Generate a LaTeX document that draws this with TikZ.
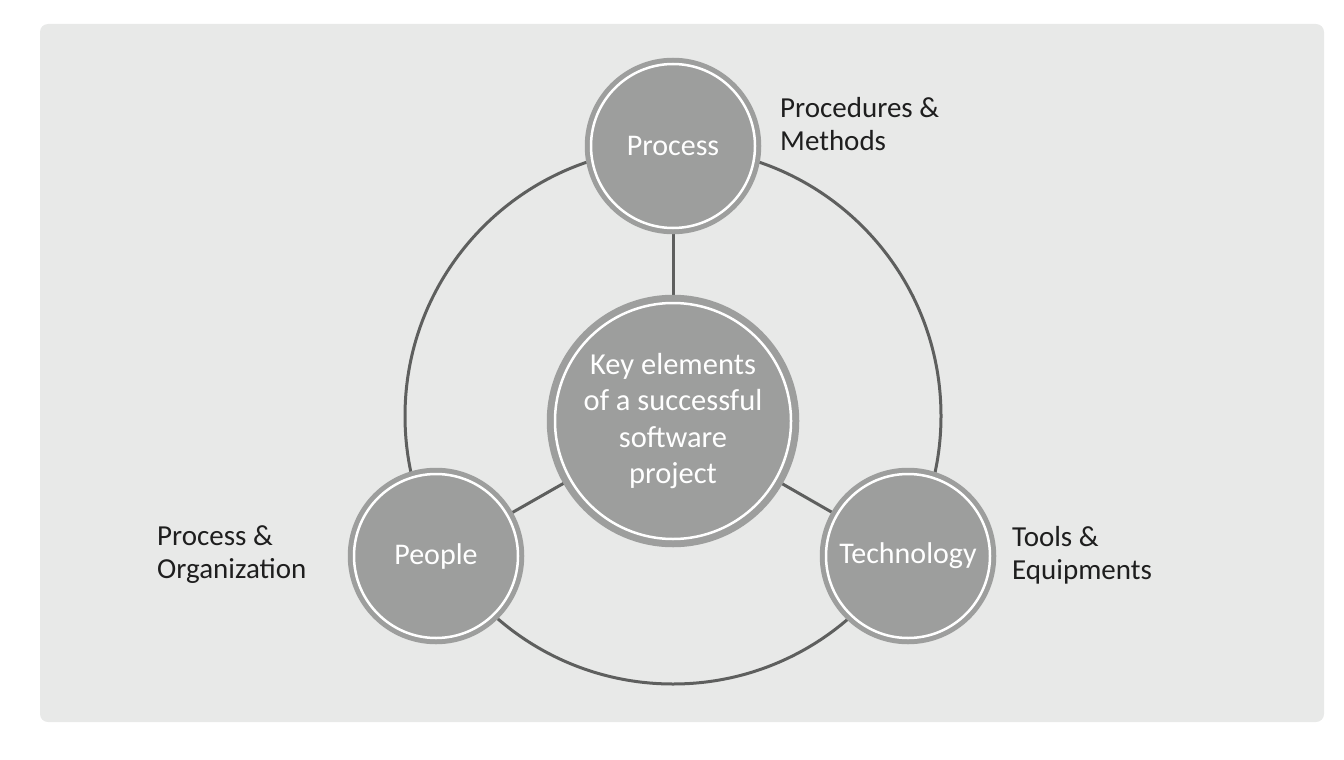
\documentclass[tikz,border=0pt]{standalone}
\usepackage{fontspec}
\setmainfont{Carlito}
\definecolor{panel}{HTML}{E8E9E8}
\definecolor{discgrey}{HTML}{9D9E9D}
\definecolor{linkgrey}{HTML}{5E5F5E}
\definecolor{ink}{HTML}{1E1E1E}
\pgfdeclarelayer{back}
\pgfdeclarelayer{mid}
\pgfsetlayers{back,mid,main}
\begin{document}
\begin{tikzpicture}[x=1pt,y=-1pt,
  smalldisc/.style={circle, fill=discgrey, draw=discgrey, double=white,
    double distance=2.5pt, line width=5pt, minimum size=164pt, inner sep=0pt,
    text=white, font=\fontsize{30}{36}\selectfont},
  bigdisc/.style={smalldisc, line width=7pt, minimum size=236pt,
    align=center, font=\fontsize{30.5}{36.5}\selectfont},
  linkline/.style={draw=linkgrey, line width=3pt},
  sidelabel/.style={anchor=west, inner sep=0pt, align=left, text=ink,
    font=\fontsize{29}{33}\selectfont}]
\useasboundingbox (0,0) rectangle (1344,760);
\begin{pgfonlayer}{back}
  \fill[panel, rounded corners=8pt] (40,24) rectangle (1324,722);
\end{pgfonlayer}
\node[bigdisc] (core) at (673,421) {Key elements\\of a successful\\software\\project};
\node[smalldisc] (proc) at (673,146) {Process};
\node[smalldisc] (people) at (436,556) {People};
\node[smalldisc] (tech) at (908,556) {Technology};
\coordinate (hub) at (673,416);
\begin{pgfonlayer}{mid}
  \draw[linkline] (hub) circle[radius=268];
  \draw[linkline] (core.center) -- (proc.center);
  \draw[linkline] (core.center) -- (people.center);
  \draw[linkline] (core.center) -- (tech.center);
\end{pgfonlayer}
\node[sidelabel] (procnote) at (780,124) {Procedures \&\\Methods};
\node[sidelabel] (peoplenote) at (157,555) {Process \&\\Organization};
\node[sidelabel] (technote) at (1012,555) {Tools \&\\Equipments};
\end{tikzpicture}
\end{document}
